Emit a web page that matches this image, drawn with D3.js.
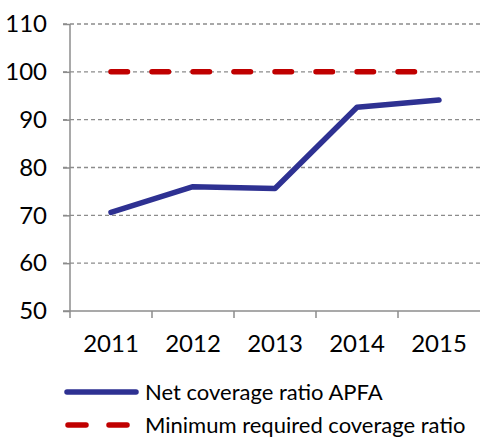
<!DOCTYPE html>
<html>
<head>
<meta charset="utf-8">
<script src="https://cdn.jsdelivr.net/npm/d3@7"></script>
<style>
  body { margin: 0; background: white; }
  text { font-family: Lato, "DejaVu Sans", sans-serif; fill: black; }
</style>
</head>
<body>
<script>
// data
var years = ["2011", "2012", "2013", "2014", "2015"];
var net_coverage = [70.6, 76.0, 75.6, 92.6, 94.1];
var min_required = [100, 100, 100, 100, 100];
var y_ticks = [50, 60, 70, 80, 90, 100, 110];
var legend_labels = ["Net coverage ratio APFA", "Minimum required coverage ratio"];

var w = 480, h = 438;
var plot_left = 70, plot_right = 480, plot_top = 24, plot_bottom = 311;
var blue = "#2e3192";
var red = "#c00000";
var grid_color = "#8c8c8c";
var axis_color = "#8c8c8c";

var svg = d3.select("body").append("svg")
  .attr("width", w)
  .attr("height", h);

var x = d3.scaleBand().domain(years).range([plot_left, plot_right]);
var y = d3.scaleLinear().domain([50, 110]).range([plot_bottom, plot_top]);

// gridlines (skip baseline)
svg.append("g").selectAll("line")
  .data(y_ticks.filter(function(d){ return d > 50; }))
  .enter().append("line")
  .attr("x1", plot_left - 7)
  .attr("x2", plot_right)
  .attr("y1", function(d){ return y(d); })
  .attr("y2", function(d){ return y(d); })
  .attr("stroke", grid_color)
  .attr("stroke-width", 1.3)
  .attr("stroke-dasharray", "4,3");

// y axis
var y_axis = svg.append("g")
  .attr("transform", "translate(" + plot_left + ",0)")
  .call(d3.axisLeft(y).tickValues(y_ticks).tickSize(7).tickPadding(16).tickFormat(d3.format("d")));
y_axis.selectAll("path, line").attr("stroke", axis_color).attr("stroke-width", 1.5);
y_axis.select(".domain").attr("d", "M0," + plot_top + "V" + plot_bottom);
y_axis.selectAll("text").attr("font-size", 24).attr("font-family", "Lato").attr("fill", "black");

// x axis, ticks between categories
var bounds = years.slice(1).map(function(d){ return x(d); });
var x_axis = svg.append("g")
  .attr("transform", "translate(0," + plot_bottom + ")");
x_axis.append("line")
  .attr("x1", plot_left - 7).attr("x2", plot_right)
  .attr("stroke", axis_color).attr("stroke-width", 1.5);
x_axis.selectAll(".tick").data(bounds).enter().append("line")
  .attr("class", "tick")
  .attr("x1", function(d){ return d; }).attr("x2", function(d){ return d; })
  .attr("y1", 0).attr("y2", 7)
  .attr("stroke", axis_color).attr("stroke-width", 1.5);
x_axis.append("line")
  .attr("x1", plot_left).attr("x2", plot_left).attr("y1", 0).attr("y2", 7)
  .attr("stroke", axis_color).attr("stroke-width", 1.5);
x_axis.selectAll("text").data(years).enter().append("text")
  .attr("x", function(d){ return x(d) + x.bandwidth()/2; })
  .attr("y", 41)
  .attr("text-anchor", "middle")
  .attr("font-size", 24)
  .text(function(d){ return d; });

var line = d3.line()
  .x(function(d, i){ return x(years[i]) + x.bandwidth()/2; })
  .y(function(d){ return y(d); });

svg.append("path")
  .datum(min_required)
  .attr("d", line)
  .attr("fill", "none")
  .attr("stroke", red)
  .attr("stroke-width", 5.5)
  .attr("stroke-linecap", "round")
  .attr("stroke-dasharray", "16.5,24.5");

svg.append("path")
  .datum(net_coverage)
  .attr("d", line)
  .attr("fill", "none")
  .attr("stroke", blue)
  .attr("stroke-width", 5.5)
  .attr("stroke-linejoin", "round")
  .attr("stroke-linecap", "round");

// legend
var legend = svg.append("g");
var legend_y = [392, 425];
legend.append("line")
  .attr("x1", 67).attr("x2", 136)
  .attr("y1", legend_y[0]).attr("y2", legend_y[0])
  .attr("stroke", blue).attr("stroke-width", 5.5).attr("stroke-linecap", "round");
legend.append("line")
  .attr("x1", 68).attr("x2", 128)
  .attr("y1", legend_y[1]).attr("y2", legend_y[1])
  .attr("stroke", red).attr("stroke-width", 5.5).attr("stroke-linecap", "round")
  .attr("stroke-dasharray", "18,23");
legend.selectAll("text").data(legend_labels).enter().append("text")
  .attr("x", 145)
  .attr("y", function(d, i){ return legend_y[i] + 8; })
  .attr("font-size", 22)
  .text(function(d){ return d; });
</script>
</body>
</html>
